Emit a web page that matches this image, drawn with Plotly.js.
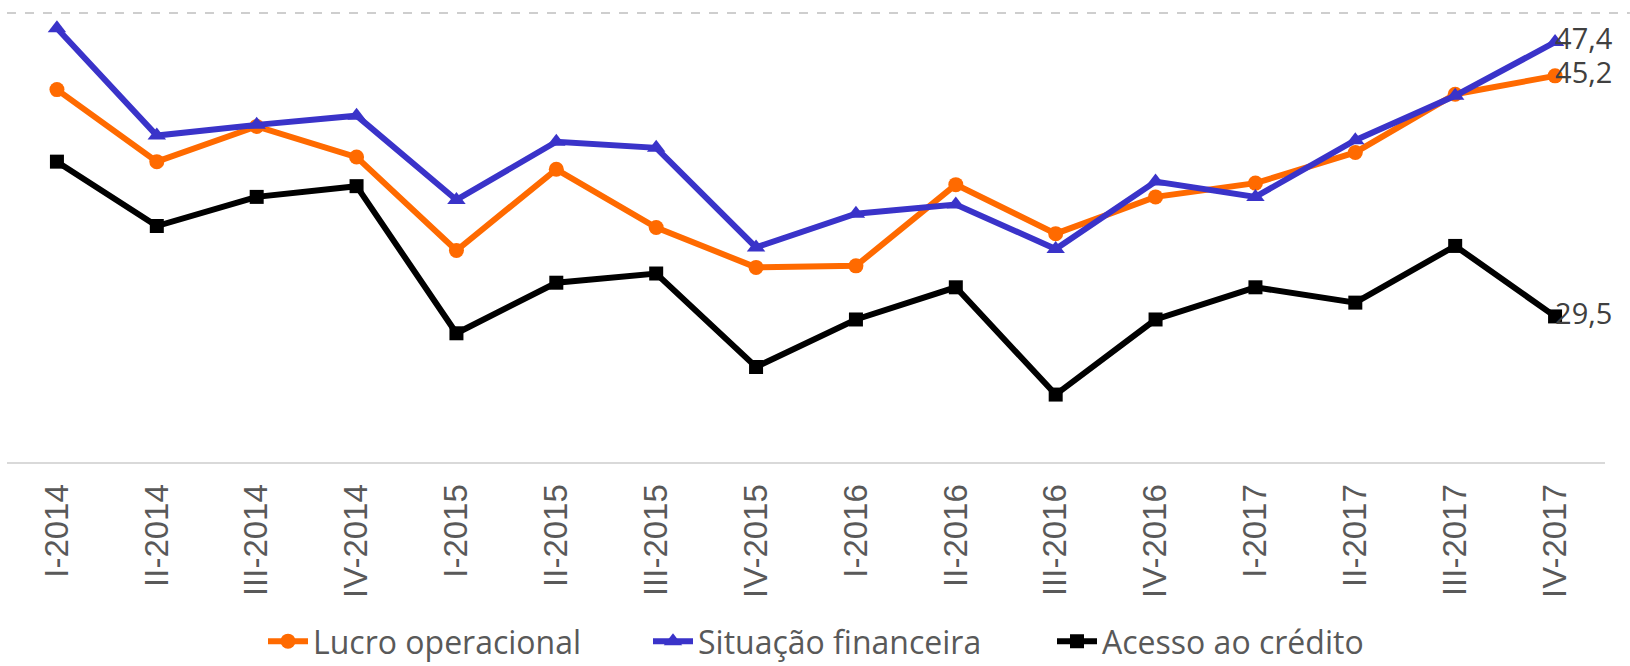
<!DOCTYPE html>
<html>
<head>
<meta charset="utf-8">
<script src="https://cdn.plot.ly/plotly-3.0.1.min.js"></script>
<style>html,body{margin:0;padding:0;background:#fff;}#chart{width:1630px;height:666px;}</style>
</head>
<body>
<div id="chart"></div>
<script>
const categories = ["I-2014","II-2014","III-2014","IV-2014","I-2015","II-2015","III-2015","IV-2015","I-2016","II-2016","III-2016","IV-2016","I-2017","II-2017","III-2017","IV-2017"];
const lucroOperacional = [44.3, 39.6, 41.9, 39.9, 33.8, 39.1, 35.3, 32.7, 32.8, 38.1, 34.9, 37.3, 38.2, 40.2, 44.0, 45.2];
const situacaoFinanceira = [48.3, 41.3, 42.0, 42.6, 37.1, 40.9, 40.5, 34.0, 36.2, 36.8, 33.9, 38.3, 37.3, 41.0, 43.9, 47.4];
const acessoCredito = [39.6, 35.4, 37.3, 38.0, 28.4, 31.7, 32.3, 26.2, 29.3, 31.4, 24.4, 29.3, 31.4, 30.4, 34.1, 29.5];
const seriesNames = ["Lucro operacional", "Situação financeira", "Acesso ao crédito"];

const fmt = v => v.toFixed(1).replace('.', ',');
const last = categories.length - 1;

function lineTrace(name, values, color, symbol, size, legendId) {
  return {
    type: 'scatter', mode: 'lines+markers', name: name,
    x: categories, y: values, legend: legendId,
    line: {color: color, width: 6},
    marker: {color: color, symbol: symbol, size: size},
    hoverinfo: 'x+y+name'
  };
}
function labelTrace(values) {
  return {
    type: 'scatter', mode: 'text', showlegend: false,
    x: [categories[last]], y: [values[last]],
    text: [fmt(values[last])], textposition: 'middle right',
    textfont: {family: 'Open Sans, sans-serif', size: 29, color: '#404040'},
    cliponaxis: false, hoverinfo: 'skip'
  };
}

const data = [
  lineTrace(seriesNames[0], lucroOperacional, '#FF6A00', 'circle', 15, 'legend'),
  lineTrace(seriesNames[1], situacaoFinanceira, '#3A33C9', 'triangle-up', 16, 'legend2'),
  lineTrace(seriesNames[2], acessoCredito, '#000000', 'square', 14, 'legend3'),
  labelTrace(lucroOperacional),
  labelTrace(situacaoFinanceira),
  labelTrace(acessoCredito)
];

function legendAt(xpx) {
  return {
    orientation: 'h', x: xpx / 1630, xanchor: 'left', xref: 'container',
    y: 0.037, yanchor: 'middle', yref: 'container',
    font: {family: 'Open Sans, sans-serif', size: 32, color: '#595959'},
    itemwidth: 40, bgcolor: 'rgba(0,0,0,0)'
  };
}

const layout = {
  width: 1630, height: 666,
  margin: {l: 7, r: 25, t: 13, b: 204},
  paper_bgcolor: '#ffffff', plot_bgcolor: '#ffffff',
  showlegend: true,
  xaxis: {
    type: 'category', range: [-0.5, 15.5],
    showgrid: false, zeroline: false,
    showline: true, linecolor: '#D9D9D9', linewidth: 2,
    ticks: '', tickangle: -90, ticklabelstandoff: 7,
    tickfont: {family: 'Liberation Sans, Arial, sans-serif', size: 33, color: '#595959'}
  },
  yaxis: {
    range: [20, 49.3], showgrid: false, zeroline: false,
    showticklabels: false, showline: false, ticks: ''
  },
  shapes: [{
    type: 'line', xref: 'paper', yref: 'paper',
    x0: 0, x1: 1.0156, y0: 1, y1: 1,
    line: {color: '#BFBFBF', width: 1.5, dash: 'dash'}
  }],
  legend: legendAt(263),
  legend2: legendAt(648),
  legend3: legendAt(1052)
};

Plotly.newPlot('chart', data, layout, {displayModeBar: false, staticPlot: true});
</script>
</body>
</html>
